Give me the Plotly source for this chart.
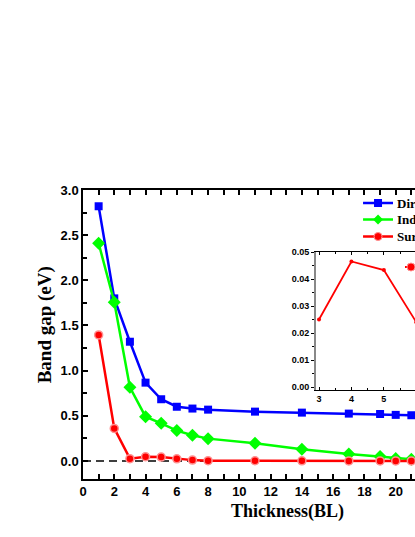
import plotly.graph_objects as go

# ---- data ----
thickness = [1, 2, 3, 4, 5, 6, 7, 8, 11, 14, 17, 19, 20, 21]
direct = [2.82, 1.80, 1.32, 0.867, 0.683, 0.60, 0.58, 0.568, 0.546, 0.535, 0.524, 0.52, 0.51, 0.506]
indirect = [2.41, 1.757, 0.816, 0.49, 0.417, 0.336, 0.284, 0.247, 0.196, 0.13, 0.078, 0.048, 0.026, 0.018]
surface = [1.395, 0.36, 0.025, 0.0465, 0.0433, 0.024, 0.009, 0.003, 0.002, 0.001, 0.0, 0.0, 0.0, 0.0]
legend_names = ["Direct", "Indirect", "Surface"]
inset_thickness = thickness[2:]
inset_surface = surface[2:]

W, H = 415, 537
L, R, T, B = 82.7, 0, 190, 58
PW, PH = W - L - R, H - T - B


def px(xp):
    return (xp - L) / PW


def py(yp):
    return (H - B - yp) / PH


BLUE, GREEN, RED = "#0000FF", "#00FF00", "#FF0000"
tickfont = dict(family="Liberation Sans", size=13, color="black", weight="bold")

fig = go.Figure()
fig.add_trace(go.Scatter(x=thickness, y=direct, mode="lines+markers",
                         line=dict(color=BLUE, width=2.5),
                         marker=dict(symbol="square", size=8, color=BLUE),
                         showlegend=False))
fig.add_trace(go.Scatter(x=thickness, y=indirect, mode="lines+markers",
                         line=dict(color=GREEN, width=2.5),
                         marker=dict(symbol="diamond", size=10, color=GREEN),
                         showlegend=False))
fig.add_trace(go.Scatter(x=thickness, y=surface, mode="lines+markers",
                         line=dict(color=RED, width=2.5),
                         marker=dict(symbol="circle", size=8, color=RED,
                                     line=dict(color="#ff9090", width=1.5)),
                         showlegend=False))
# inset
fig.add_trace(go.Scatter(x=inset_thickness, y=inset_surface, mode="lines+markers",
                         xaxis="x2", yaxis="y2",
                         line=dict(color=RED, width=1.8),
                         marker=dict(symbol="circle", size=4, color=RED),
                         showlegend=False))

shapes = []
# dashed zero line
shapes.append(dict(type="line", xref="paper", yref="y", x0=0, x1=1, y0=0, y1=0,
                   line=dict(color="black", width=1.5, dash="8px,5px"), layer="below"))

# manual legend
rows = [203, 219.5, 236.5]
cols = [BLUE, GREEN, RED]
for yp, c in zip(rows, cols):
    shapes.append(dict(type="line", xref="paper", yref="paper",
                       x0=px(363), x1=px(393), y0=py(yp), y1=py(yp),
                       line=dict(color=c, width=2.5)))
# legend markers
cx = px(378)
shapes.append(dict(type="rect", xref="paper", yref="paper", xsizemode="pixel", ysizemode="pixel",
                   xanchor=cx, yanchor=py(rows[0]), x0=-4, x1=4, y0=-4, y1=4,
                   fillcolor=BLUE, line=dict(width=0)))
shapes.append(dict(type="path", xref="paper", yref="paper", xsizemode="pixel", ysizemode="pixel",
                   xanchor=cx, yanchor=py(rows[1]), path="M -5 0 L 0 5 L 5 0 L 0 -5 Z",
                   fillcolor=GREEN, line=dict(width=0)))
shapes.append(dict(type="circle", xref="paper", yref="paper", xsizemode="pixel", ysizemode="pixel",
                   xanchor=cx, yanchor=py(rows[2]), x0=-4, x1=4, y0=-4, y1=4,
                   fillcolor=RED, line=dict(color="#ff9090", width=1)))
# inset legend stub
shapes.append(dict(type="line", xref="paper", yref="paper",
                   x0=px(405), x1=px(416), y0=py(267), y1=py(267),
                   line=dict(color=RED, width=2)))
shapes.append(dict(type="circle", xref="paper", yref="paper", xsizemode="pixel", ysizemode="pixel",
                   xanchor=px(411), yanchor=py(267), x0=-4, x1=4, y0=-4, y1=4,
                   fillcolor=RED, line=dict(color="#ff9090", width=1)))

annotations = []
for yp, name in zip(rows, legend_names):
    annotations.append(dict(x=px(396), y=py(yp), xref="paper", yref="paper",
                            text=name, showarrow=False, xanchor="left", yanchor="middle",
                            borderpad=0,
                            font=dict(family="Liberation Serif", size=13, color="black", weight="bold")))
annotations.append(dict(x=px(287), y=py(511), xref="paper", yref="paper",
                        text="Thickness(BL)", showarrow=False, xanchor="center", yanchor="middle",
                        font=dict(family="Liberation Serif", size=18, color="black", weight="bold")))
annotations.append(dict(x=px(45), y=py(325), xref="paper", yref="paper", textangle=-90,
                        text="Band gap (eV)", showarrow=False, xanchor="center", yanchor="middle",
                        font=dict(family="Liberation Serif", size=19, color="black", weight="bold")))

ix0, ix1 = px(316), 1.0
iy0, iy1 = py(390), py(252)

fig.update_layout(
    width=W, height=H,
    margin=dict(l=L, r=R, t=T, b=B, autoexpand=False),
    paper_bgcolor="white", plot_bgcolor="white",
    shapes=shapes, annotations=annotations,
    xaxis=dict(range=[0, (W - L) / 15.65], dtick=2, tick0=0,
               ticks="inside", ticklen=5, tickwidth=1.5, tickcolor="black",
               showline=True, linecolor="black", linewidth=1.5, mirror="ticks",
               showgrid=False, zeroline=False, tickfont=tickfont,
               minor=dict(dtick=1, ticks="inside", ticklen=5, tickwidth=1.5, tickcolor="black")),
    yaxis=dict(range=[-0.2, 3.0], dtick=0.5, tick0=0, tickformat=".1f",
               ticks="inside", ticklen=5, tickwidth=1.5, tickcolor="black",
               showline=True, linecolor="black", linewidth=1.5, mirror=False,
               showgrid=False, zeroline=False, tickfont=tickfont,
               minor=dict(dtick=0.25, ticks="inside", ticklen=4, tickwidth=1.5, tickcolor="black")),
    xaxis2=dict(domain=[ix0, ix1], anchor="y2", range=[2.91, 5.96], dtick=1,
                ticks="inside", ticklen=3, tickwidth=1, tickcolor="black",
                showline=True, linecolor="black", linewidth=1.2, mirror="ticks",
                showgrid=False, zeroline=False,
                tickfont=dict(family="Liberation Sans", size=9, color="black", weight="bold"),
                minor=dict(dtick=0.5, ticks="inside", ticklen=2, tickwidth=1, tickcolor="black")),
    yaxis2=dict(domain=[iy0, iy1], anchor="x2", range=[-0.0011, 0.05], dtick=0.01,
                tickformat=".2f",
                ticks="outside", ticklen=3, tickwidth=1, tickcolor="black",
                showline=True, linecolor="#888888", linewidth=2, mirror=False,
                showgrid=False, zeroline=False,
                tickfont=dict(family="Liberation Sans", size=9, color="black", weight="bold"),
                minor=dict(dtick=0.005, ticks="outside", ticklen=2, tickwidth=1, tickcolor="black")),
)

fig.write_html("out.html", config={"displayModeBar": False},
               post_script="document.body.style.margin='0';document.body.style.overflow='hidden';")
